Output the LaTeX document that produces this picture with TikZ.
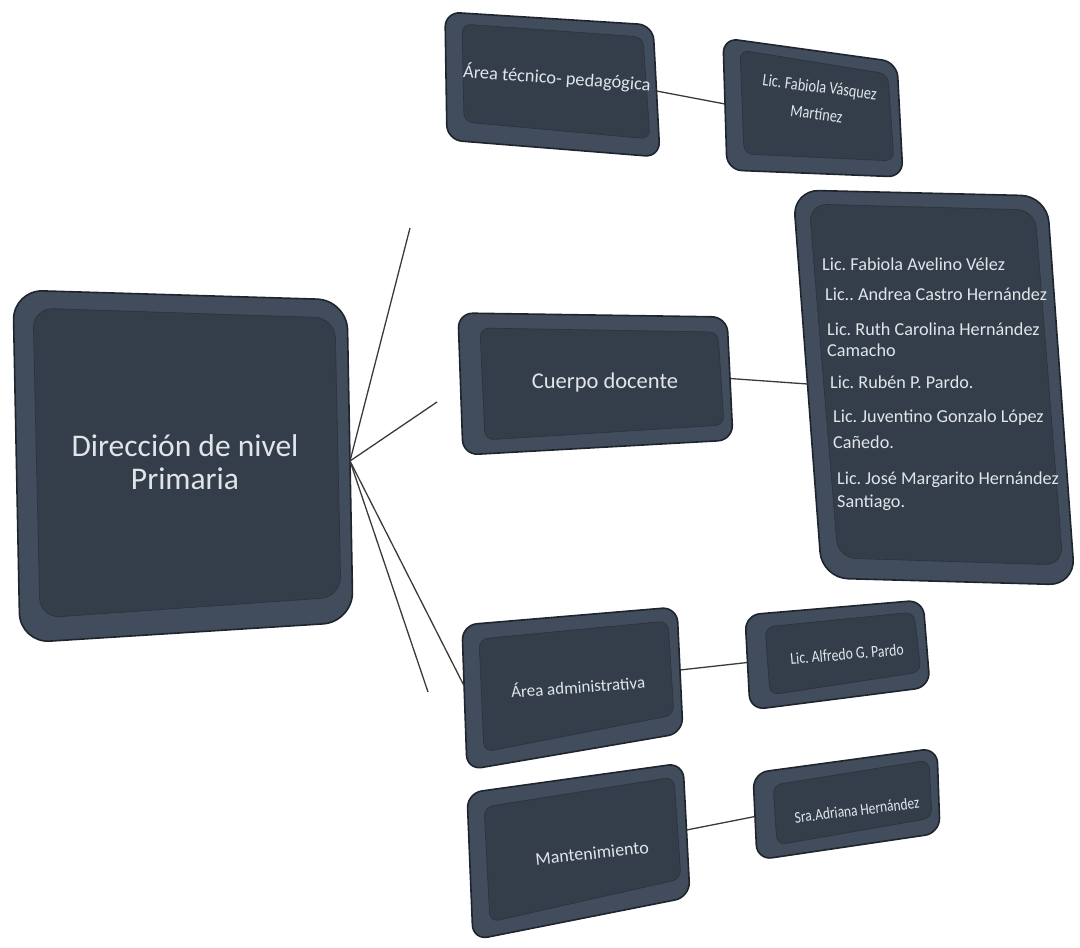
\documentclass[tikz,border=0pt]{standalone}
\usepackage{fontspec}
\usepackage{graphicx}
\setmainfont{Carlito}
\frenchspacing
\usetikzlibrary{calc}
\definecolor{rimc}{HTML}{414D5C}
\definecolor{rimdark}{HTML}{1E252D}
\definecolor{facec}{HTML}{333E4A}
\definecolor{facedark}{HTML}{2A323C}
\definecolor{txtc}{HTML}{E1E5EA}
\definecolor{linkc}{HTML}{3A3A3A}
\newcommand{\narrowtext}[1]{\scalebox{0.82}[1]{#1}}
\tikzset{
  boxrim/.style={fill=rimc, draw=rimdark, line width=1.6pt, rounded corners=15pt},
  boxface/.style={fill=facec, draw=facedark, line width=0.6pt, rounded corners=9pt},
  lbl/.style={text=txtc, align=center, inner sep=0pt},
  lst/.style={text=txtc, anchor=base west, inner sep=0pt, font=\fontsize{18.2}{21}\selectfont},
  link/.style={draw=linkc, line width=1.3pt},
}
% name, tl, tr, br, bl, inset left, top, right, bottom
\newcommand{\bevelbox}[9]{%
  \coordinate (#1-tl) at (#2);
  \coordinate (#1-tr) at (#3);
  \coordinate (#1-br) at (#4);
  \coordinate (#1-bl) at (#5);
  \path[boxrim] (#1-tl) -- (#1-tr) -- (#1-br) -- (#1-bl) -- cycle;
  \path[boxface] ($(#1-tl)+(#6,#7)$) -- ($(#1-tr)+(-#8,#7)$) -- ($(#1-br)+(-#8,-#9)$) -- ($(#1-bl)+(#6,-#9)$) -- cycle;
  \coordinate (#1-e) at ($(#1-tr)!0.5!(#1-br)$);
  \coordinate (#1-w) at ($(#1-tl)!0.5!(#1-bl)$);
}
\begin{document}
\begin{tikzpicture}[x=1pt,y=-1pt]
\useasboundingbox (0,0) rectangle (1080,948);

\coordinate (fa) at (410,228);
\coordinate (fb) at (437,402);
\coordinate (fc) at (428,692);

\begin{scope}[boxrim/.append style={rounded corners=30pt}, boxface/.append style={rounded corners=20pt}]
\bevelbox{main}{13,290}{347,300}{353,622}{20,643}{20}{18}{12}{25}
\end{scope}
\bevelbox{atp}{445,12}{653,25}{660,157}{447,140}{17}{12}{10}{18}
\bevelbox{fv}{723,38}{897,62}{903,177}{727,170}{17}{12}{9}{16}
\bevelbox{cd}{458,313}{727,317}{733,440}{463,455}{22}{15}{9}{15}
\begin{scope}[boxrim/.append style={rounded corners=26pt}, boxface/.append style={rounded corners=18pt}]
\bevelbox{list}{793,190}{1047,196}{1075,585}{822,578}{16}{14}{12}{20}
\end{scope}
\bevelbox{aa}{462,625}{677,607}{683,733}{467,770}{17}{14}{9}{18}
\bevelbox{ap}{745,615}{923,600}{930,687}{750,710}{20}{12}{9}{15}
\bevelbox{mt}{467,793}{683,763}{690,897}{473,940}{17}{14}{9}{18}
\bevelbox{ah}{753,773}{937,748}{940,833}{757,860}{20}{12}{8}{15}

\coordinate (aa-in) at ($(aa-tl)!0.42!(aa-bl)$);
\draw[link] (main-e) -- (fa);
\draw[link] (main-e) -- (fb);
\draw[link] (main-e) -- (aa-in);
\draw[link] (main-e) -- (fc);

\draw[link] (atp-e) -- (fv-w);
\draw[link] (cd-e) -- (list-w);
\draw[link] (aa-e) -- (ap-w);
\draw[link] (mt-e) -- (ah-w);

\node[lbl, font=\fontsize{31.5}{33}\selectfont] (tmain) at (185,462) {Dirección de nivel\\Primaria};
\node[lbl, font=\fontsize{18.4}{21}\selectfont, rotate=-4] (tatp) at (557,78) {Área técnico- pedagógica};
\node[lbl, font=\fontsize{17.5}{21}\selectfont, rotate=-7] (tfv) at (818,102) {\narrowtext{\begin{tabular}{@{}c@{}}Lic. Fabiola Vásquez\\[6pt]Martínez\end{tabular}}};
\node[lbl, font=\fontsize{22.5}{26}\selectfont] (tcd) at (605,382) {Cuerpo docente};
\node[lbl, font=\fontsize{17}{20}\selectfont, rotate=4] (taa) at (578,686) {Área administrativa};
\node[lbl, font=\fontsize{16.8}{20}\selectfont, rotate=5] (tap) at (847,654) {\narrowtext{Lic. Alfredo G. Pardo}};
\node[lbl, font=\fontsize{18}{21}\selectfont, rotate=6] (tmt) at (592,853) {Mantenimiento};
\node[lbl, font=\fontsize{16.4}{20}\selectfont, rotate=7] (tah) at (857,810) {\narrowtext{Sra.Adriana Hernández}};

\node[lst] (l1) at (822,270) {Lic. Fabiola Avelino Vélez};
\node[lst] (l2) at (825,300) {Lic.. Andrea Castro Hernández};
\node[lst] (l3) at (827,335) {Lic. Ruth Carolina Hernández};
\node[lst] (l3b) at (827,356) {Camacho};
\node[lst] (l4) at (830,388) {Lic. Rubén P. Pardo.};
\node[lst] (l5) at (833,422) {Lic. Juventino Gonzalo López};
\node[lst] (l5b) at (833,448) {Cañedo.};
\node[lst] (l6) at (837,484) {Lic. José Margarito Hernández};
\node[lst] (l6b) at (837,507) {Santiago.};
\end{tikzpicture}
\end{document}
